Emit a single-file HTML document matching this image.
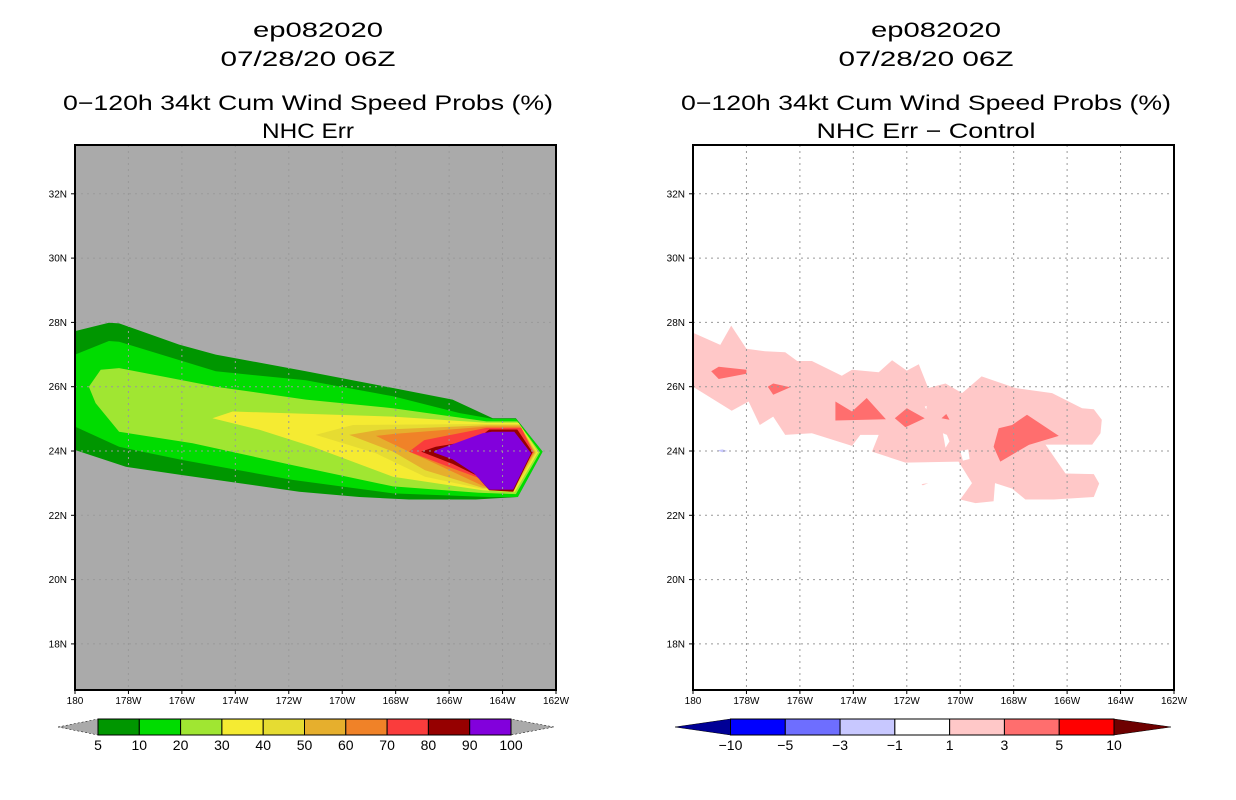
<!DOCTYPE html>
<html><head><meta charset="utf-8"><style>
html,body{margin:0;padding:0;background:#fff;}
svg{display:block;font-family:"Liberation Sans",sans-serif;}
</style></head><body>
<svg id="root" width="1236" height="800" viewBox="0 0 1236 800">
<g font-size="21" text-anchor="middle" fill="#000">
<text x="318" y="37" textLength="130" lengthAdjust="spacingAndGlyphs">ep082020</text>
<text x="308" y="66" textLength="175" lengthAdjust="spacingAndGlyphs">07/28/20 06Z</text>
<text x="308" y="110" textLength="490" lengthAdjust="spacingAndGlyphs">0−120h 34kt Cum Wind Speed Probs (%)</text>
<text x="308" y="138" textLength="92" lengthAdjust="spacingAndGlyphs">NHC Err</text>
</g>
<g font-size="21" text-anchor="middle" fill="#000">
<text x="936" y="37" textLength="130" lengthAdjust="spacingAndGlyphs">ep082020</text>
<text x="926" y="66" textLength="175" lengthAdjust="spacingAndGlyphs">07/28/20 06Z</text>
<text x="926" y="110" textLength="490" lengthAdjust="spacingAndGlyphs">0−120h 34kt Cum Wind Speed Probs (%)</text>
<text x="926" y="138" textLength="219" lengthAdjust="spacingAndGlyphs">NHC Err − Control</text>
</g>
<g id="left"></g>
<g id="right"></g>
<g id="cbl"></g>
<g id="cbr"></g>
</svg>
<script>
// polygons as [degrees west of the dateline, latitude]
const xTickLabels = ["180","178W","176W","174W","172W","170W","168W","166W","164W","162W"];
const yTickLats = [18,20,22,24,26,28,30,32];
const probLevels = ["5","10","20","30","40","50","60","70","80","90","100"];
const probColors = ["#009600","#00dc00","#a0e632","#f5eb32","#e6dc32","#e6af2d","#f08228","#fa3c3c","#960000","#8200dc"];
const diffLevels = ["-10","-5","-3","-1","1","3","5","10"];
const diffColors = ["#0000ff","#6e6eff","#c8c8ff","#ffffff","#ffc8c8","#ff6e6e","#ff0000"];
const prob5 = [[0,27.73],[1.27,27.99],[1.65,27.97],[3.9,27.31],[5.27,27.0],[8.64,26.48],[11.9,25.96],[14.13,25.6],[15.63,25.02],[16.5,25.02],[17.5,23.98],[16.57,22.57],[15.0,22.49],[12.5,22.49],[10.64,22.57],[8.39,22.73],[6.14,23.0],[4.02,23.25],[1.9,23.51],[0,24.03]];
const prob10 = [[0,27.0],[1.27,27.42],[1.65,27.4],[5.27,26.48],[8.64,26.2],[11.9,25.7],[14.4,25.18],[15.63,25.0],[16.5,25.0],[17.5,23.98],[16.57,22.57],[15.5,22.57],[11.9,22.68],[8.14,23.1],[4.02,23.72],[1.65,24.13],[0,24.76]];
const prob20 = [[0.52,26.0],[0.96,26.53],[1.65,26.58],[5.27,26.0],[8.64,25.6],[11.9,25.33],[15.4,24.92],[16.55,24.92],[17.4,23.96],[16.5,22.66],[15.1,22.7],[11.9,22.9],[8.14,23.56],[4.4,24.24],[1.65,24.6],[0.77,25.49]];
const prob30 = [[5.14,25.02],[5.9,25.23],[11.9,25.07],[15.4,24.88],[16.6,24.88],[17.33,23.96],[16.45,22.72],[15.25,22.78],[11.9,23.2],[8.9,24.13],[6.9,24.66]];
const prob40 = [[9.0,24.5],[10.4,24.81],[15.4,24.84],[16.62,24.84],[17.28,23.96],[16.42,22.76],[15.25,22.82],[13.1,23.2],[11.26,23.93]];
const prob50 = [[10.26,24.5],[11.4,24.66],[15.4,24.8],[16.65,24.8],[17.23,23.96],[16.4,22.8],[15.25,22.86],[13.1,23.4],[11.9,23.98]];
const prob60 = [[11.26,24.47],[11.9,24.53],[15.4,24.76],[16.68,24.76],[17.18,23.96],[16.38,22.84],[15.3,22.9],[13.5,23.6],[12.5,23.98]];
const prob70 = [[12.5,23.98],[13.07,24.34],[15.4,24.72],[16.7,24.72],[17.15,23.96],[16.35,22.87],[15.3,23.1],[14.13,23.46]];
const prob80 = [[12.95,23.98],[13.5,24.13],[15.0,24.34],[15.5,24.67],[16.55,24.67],[17.12,23.96],[16.4,22.73],[15.5,22.78],[15.0,23.25],[14.13,23.6]];
const prob90 = [[13.44,24.0],[15.25,24.55],[15.6,24.6],[16.44,24.6],[17.07,23.93],[16.4,22.8],[15.5,22.8],[14.94,23.3],[14.13,23.74],[13.44,23.95]];
const probPolys = [prob5,prob10,prob20,prob30,prob40,prob50,prob60,prob70,prob80,prob90];
const diffPos1 = [[0,27.68],[1.02,27.3],[1.43,27.9],[2.0,27.18],[2.7,27.1],[3.45,27.07],[3.9,26.8],[4.45,26.8],[5.57,26.34],[5.95,26.53],[6.95,26.45],[7.45,26.82],[8.0,26.5],[8.45,26.7],[8.8,25.96],[9.45,26.1],[10.07,25.8],[10.8,26.32],[12.07,25.96],[13.44,25.8],[14.56,25.33],[15.0,25.3],[15.3,24.97],[15.25,24.55],[14.94,24.2],[13.19,24.2],[13.94,23.3],[15.0,23.28],[15.2,22.99],[15.0,22.57],[13.5,22.49],[12.44,22.49],[11.94,22.83],[11.3,23.0],[11.25,22.44],[10.57,22.38],[10.0,22.49],[10.44,23.0],[9.94,23.67],[7.95,23.64],[6.7,23.98],[6.95,24.5],[6.26,24.5],[5.95,24.16],[4.45,24.55],[3.45,24.5],[3.0,25.07],[2.5,24.81],[2.08,25.54],[1.45,25.25],[0,26.0]];
const diffHoles = [[[9.35,24.55],[9.5,24.5],[9.6,24.3],[9.45,24.1]],[[10.0,24.0],[10.3,24.05],[10.35,23.75],[10.1,23.7]],[[8.67,25.38],[8.75,25.4],[8.73,25.3]]];
const diffPos3 = [[[0.68,26.48],[0.96,26.62],[2.0,26.53],[2.0,26.4],[0.96,26.24]],[[2.8,26.0],[3.0,26.1],[3.64,25.98],[3.0,25.75]],[[5.33,25.54],[5.95,25.23],[6.5,25.65],[7.22,24.99],[5.33,24.95]],[[7.55,25.02],[8.0,25.33],[8.67,25.02],[7.95,24.74]],[[9.3,25.02],[9.48,25.15],[9.6,24.97]],[[11.44,24.71],[11.94,24.81],[12.5,25.13],[13.69,24.47],[12.57,24.19],[11.5,23.67],[11.25,24.13]]];
const diffSmallPos = [[[8.55,22.97],[8.8,23.0],[8.6,22.93]]];
const diffNeg = [[[0.9,24.02],[1.1,24.05],[1.3,24.0],[1.1,23.96]]];

const NS="http://www.w3.org/2000/svg";
function mk(p,tag,at){const e=document.createElementNS(NS,tag);for(const k in at)e.setAttribute(k,at[k]);p.appendChild(e);return e;}
function axes(x0){return {x:d=>x0+d*481/18, y:lat=>451-(lat-24)*32.15};}
function poly(g,A,pts,fill,name){
  const e=mk(g,'polygon',{points:pts.map(p=>A.x(p[0]).toFixed(1)+','+A.y(p[1]).toFixed(1)).join(' '),fill:fill});
  
  
}
function frame(g,A,x0,bg){
  const r=mk(g,'rect',{x:x0,y:145,width:481,height:545,fill:bg});
  
  
}
function grid(g,A,x0){
  for(let i=1;i<9;i++){const x=A.x(i*2);const l=mk(g,'line',{x1:x,x2:x,y1:145,y2:690,stroke:'#999','stroke-width':1,'stroke-dasharray':'2,4'});
    
    }
  yTickLats.forEach(lat=>{const y=A.y(lat);const l=mk(g,'line',{x1:x0,x2:x0+481,y1:y,y2:y,stroke:'#999','stroke-width':1,'stroke-dasharray':'2,4'});
    
    });
  const f=mk(g,'rect',{x:x0,y:145,width:481,height:545,fill:'none',stroke:'#000','stroke-width':2});
  
  
  xTickLabels.forEach((t,i)=>{const x=A.x(i*2);
    mk(g,'line',{x1:x,x2:x,y1:690,y2:694,stroke:'#000'});
    const tx=mk(g,'text',{x:x,y:704,'font-size':10,'text-anchor':'middle'});tx.textContent=t;
    
    });
  yTickLats.forEach(lat=>{const y=A.y(lat);
    mk(g,'line',{x1:x0-4,x2:x0,y1:y,y2:y,stroke:'#000'});
    const tx=mk(g,'text',{x:x0-8,y:y+3.5,'font-size':10,'text-anchor':'end'});tx.textContent=lat+'N';
    
    });
}
const gl=document.getElementById('left'), AL=axes(75);
frame(gl,AL,75,'#aaaaaa');
probPolys.forEach((p,i)=>poly(gl,AL,p,probColors[i],'prob-contour-'+probLevels[i]));
grid(gl,AL,75);
const gr=document.getElementById('right'), AR=axes(693);
frame(gr,AR,693,'#ffffff');
poly(gr,AR,diffPos1,diffColors[4],'diff-contour-1-3');
diffHoles.forEach(p=>poly(gr,AR,p,'#ffffff','diff-hole'));
diffSmallPos.forEach(p=>poly(gr,AR,p,diffColors[4],'diff-contour-1-3-small'));
diffPos3.forEach(p=>poly(gr,AR,p,diffColors[5],'diff-contour-3-5'));
diffNeg.forEach(p=>poly(gr,AR,p,diffColors[2],'diff-contour-neg'));
grid(gr,AR,693);
function colorbar(g,left,right,tipL,tipR,colors,labels,lcol,rcol){
  const w=(right-left)/colors.length;
  const t1=mk(g,'polygon',{points:`${tipL},727 ${left},719 ${left},735`,fill:lcol,stroke:'#000','stroke-width':0.5,'stroke-dasharray':lcol=='#aaaaaa'?'2,2':''});
  
  
  const t2=mk(g,'polygon',{points:`${tipR},727 ${right},719 ${right},735`,fill:rcol,stroke:'#000','stroke-width':0.5,'stroke-dasharray':rcol=='#aaaaaa'?'2,2':''});
  
  
  colors.forEach((c,i)=>{const r=mk(g,'rect',{x:left+i*w,y:719,width:w,height:16,fill:c,stroke:'#000','stroke-width':1});
    
    });
  labels.forEach((l,i)=>{const tx=mk(g,'text',{x:left+i*w,y:750,'font-size':14,'text-anchor':'middle'});tx.textContent=l.replace('-','−');
    
    });
}
colorbar(document.getElementById('cbl'),98,511,58,554,probColors,probLevels,'#aaaaaa','#aaaaaa');
colorbar(document.getElementById('cbr'),730.5,1114,675,1171,diffColors,diffLevels,'#000096','#6e0000');
</script>
</body></html>
